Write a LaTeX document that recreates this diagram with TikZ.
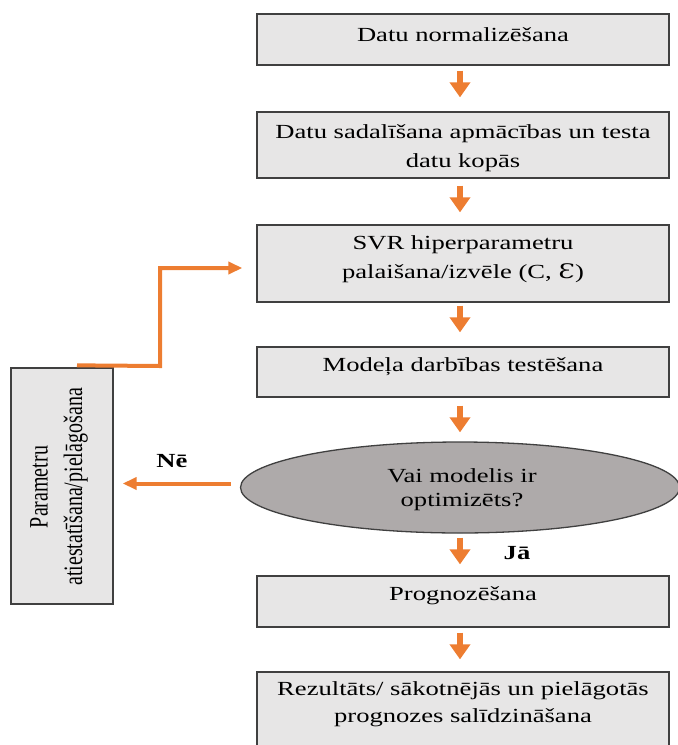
\documentclass[tikz,border=0pt]{standalone}
\usepackage{fontspec}
\setmainfont[FakeStretch=1.33]{Liberation Serif}
\newfontfamily\plainserif{Liberation Serif}
\newfontfamily\epsfont[FakeStretch=1.33]{DejaVu Serif}
\usetikzlibrary{shapes.geometric,arrows.meta,calc}
\definecolor{boxfill}{HTML}{E7E6E6}
\definecolor{ellfill}{HTML}{AEAAAA}
\definecolor{edgegray}{HTML}{404040}
\definecolor{floworange}{HTML}{ED7D31}
\begin{document}
\begin{tikzpicture}[x=1pt,y=-1pt,
  procbox/.style={draw=edgegray,line width=1.3pt,fill=boxfill,rectangle,inner sep=0pt,minimum width=412pt},
  txt/.style={anchor=base,inner sep=0pt,font=\fontsize{20}{26}\selectfont},
  downarrow/.style={draw=floworange,line width=6pt,-{Triangle[width=20pt,length=15pt]}},
  sidearrow/.style={draw=floworange,line width=4pt,line join=miter,-{Triangle[width=12pt,length=14pt]}},
  lbl/.style={font=\fontsize{20}{24}\selectfont\bfseries,inner sep=0pt}
]
\useasboundingbox (0,0) rectangle (678,745);
\clip (0,0) rectangle (678,745);

% boxes
\node[procbox,minimum height=51pt] (b1) at (463,39.5) {};
\node[procbox,minimum height=66pt] (b2) at (463,145) {};
\node[procbox,minimum height=77pt] (b3) at (463,263.5) {};
\node[procbox,minimum height=50pt] (b4) at (463,372) {};
\node[ellipse,draw=edgegray,line width=1.3pt,fill=ellfill,inner sep=0pt,minimum width=439pt,minimum height=91pt] (e) at (460,487.5) {};
\node[procbox,minimum height=51pt] (b5) at (463,601.5) {};
\node[procbox,minimum height=86pt] (b6) at (463,715) {};
\node[draw=edgegray,line width=1.3pt,fill=boxfill,rectangle,inner sep=0pt,minimum width=102pt,minimum height=236pt] (lb) at (62,486) {};

% texts
\node[txt] (t1) at (463,41) {Datu normalizēšana};
\node[txt] (t2a) at (463,138) {Datu sadalīšana apmācības un testa};
\node[txt] (t2b) at (463,167) {datu kopās};
\node[txt] (t3a) at (463,249) {SVR hiperparametru};
\node[txt] (t3b) at (463,278) {palaišana/izvēle (C, {\epsfont Ɛ})};
\node[txt] (t4) at (463,371) {Modeļa darbības testēšana};
\node[txt] (tea) at (462,482) {Vai modelis ir};
\node[txt] (teb) at (462,506) {optimizēts?};
\node[txt] (t5) at (463,600) {Prognozēšana};
\node[txt] (t6a) at (463,695) {Rezultāts/ sākotnējās un pielāgotās};
\node[txt] (t6b) at (463,722) {prognozes salīdzināšana};
\node[rotate=90,inner sep=0pt,font=\plainserif\fontsize{20}{26}\selectfont] (lt) at (58,487)
  {\scalebox{1}[1.33]{\begin{tabular}{@{}c@{}}Parametru\\atiestatīšana/pielāgošana\end{tabular}}};

% labels
\node[lbl] (ne) at (172,461) {Nē};
\node[lbl] (ja) at (517,553) {Jā};

% vertical arrows
\draw[downarrow,shorten <=5pt,shorten >=14pt] (b1.south -| e.center) -- (b2.north -| e.center);
\draw[downarrow,shorten <=7pt,shorten >=12pt] (b2.south -| e.center) -- (b3.north -| e.center);
\draw[downarrow,shorten <=3pt,shorten >=14pt] (b3.south -| e.center) -- (b4.north -| e.center);
\draw[downarrow,shorten <=8pt,shorten >=9pt] (b4.south -| e.center) -- (e.north);
\draw[downarrow,shorten <=4pt,shorten >=11pt] (e.south) -- (b5.north -| e.center);
\draw[downarrow,shorten <=5pt,shorten >=12pt] (b5.south -| e.center) -- (b6.north -| e.center);

% feedback
\coordinate (fbstart) at ($(lb.north)+(15,-2)$);
\coordinate (fbbend) at (160,366);
\draw[sidearrow,shorten >=14pt] (fbstart) -- (fbbend) |- ([yshift=-4.5pt]b3.west);
\draw[sidearrow,shorten <=9pt,shorten >=9pt] ([yshift=4pt]e.west) -- ([yshift=4pt]e.west -| lb.east);
\end{tikzpicture}
\end{document}
